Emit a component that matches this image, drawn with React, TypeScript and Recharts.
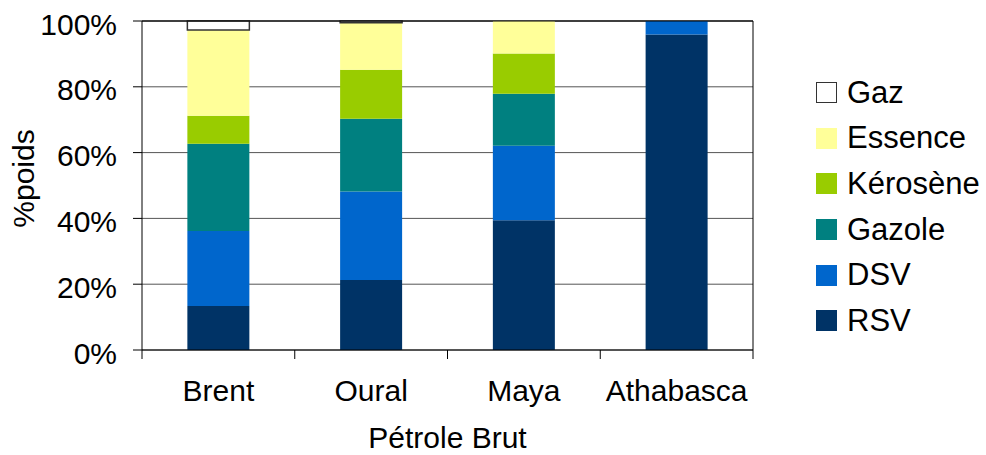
import { BarChart, Bar, XAxis, YAxis, CartesianGrid, Legend, ReferenceLine } from "recharts"

const CATEGORIES = ["Brent", "Oural", "Maya", "Athabasca"]
const RSV = [13.4, 21.3, 39.4, 95.9]
const DSV = [22.8, 26.9, 22.7, 4.1]
const GAZOLE = [26.5, 22.1, 15.8, 0]
const KEROSENE = [8.5, 14.9, 12.2, 0]
const ESSENCE = [26.1, 14.3, 9.9, 0]
const GAZ = [2.7, 0.5, 0, 0]
const Y_TICKS = [0, 20, 40, 60, 80, 100]

// bottom to top of the stack
const SERIES = [
  { key: "RSV", name: "RSV", values: RSV, fill: "#003366" },
  { key: "DSV", name: "DSV", values: DSV, fill: "#0066CC" },
  { key: "Gazole", name: "Gazole", values: GAZOLE, fill: "#008080" },
  { key: "Kerosene", name: "Kérosène", values: KEROSENE, fill: "#99CC00" },
  { key: "Essence", name: "Essence", values: ESSENCE, fill: "#FFFF99" },
  { key: "Gaz", name: "Gaz", values: GAZ, fill: "#FFFFFF", stroke: "#333" },
]

const data = CATEGORIES.map((name, i) => {
  const row: Record<string, string | number> = { name }
  SERIES.forEach((s) => {
    row[s.key] = s.values[i]
  })
  return row
})

const FONT = 30

function CategoryTick(props: any) {
  const { x, y, payload, index, visibleTicksCount, width } = props
  const count = visibleTicksCount || CATEGORIES.length
  const half = (width || 611) / count / 2
  const last = index === count - 1
  return (
    <g>
      <line x1={x - half} x2={x - half} y1={y} y2={y + 9} stroke="#000" />
      {last && <line x1={x + half} x2={x + half} y1={y} y2={y + 9} stroke="#000" />}
      <text x={x} y={y + 51} textAnchor="middle" fontSize={FONT} fill="#000">
        {payload.value}
      </text>
    </g>
  )
}

function YLabel(props: any) {
  const vb = props.viewBox || { x: 0, y: 21, width: 142, height: 329 }
  const cx = vb.x + 23
  const cy = vb.y + vb.height / 2 - 7
  return (
    <text
      x={cx}
      y={cy}
      transform={`rotate(-90 ${cx} ${cy})`}
      textAnchor="middle"
      dominantBaseline="central"
      fontSize={FONT}
      fill="#000"
    >
      %poids
    </text>
  )
}

function LegendBox() {
  return (
    <div style={{ fontSize: FONT + 1, color: "#000", whiteSpace: "nowrap" }}>
      {[...SERIES].reverse().map((s) => (
        <div key={s.key} style={{ display: "flex", alignItems: "center", height: 45.6 }}>
          <span
            style={{
              display: "inline-block",
              boxSizing: "border-box",
              width: 21,
              height: 21,
              background: s.fill,
              border: s.stroke ? `1.5px solid ${s.stroke}` : "none",
              marginRight: 10,
            }}
          />
          <span>{s.name}</span>
        </div>
      ))}
    </div>
  )
}

export default function App() {
  return (
    <div
      style={{
        position: "absolute",
        left: 0,
        top: 0,
        width: 986,
        height: 455,
        background: "#fff",
        fontFamily: "'Liberation Sans', Arial, sans-serif",
      }}
    >
      <BarChart
        width={986}
        height={455}
        data={data}
        margin={{ top: 21, right: 232, bottom: 0, left: 0 }}
        barCategoryGap="29.7%"
      >
        <CartesianGrid vertical={false} stroke="#555" />
        <XAxis
          dataKey="name"
          height={105}
          tickLine={false}
          tickSize={0}
          tickMargin={0}
          axisLine={{ stroke: "#000" }}
          tick={<CategoryTick />}
          interval={0}
          label={{ value: "Pétrole Brut", position: "insideBottom", offset: 7, fontSize: FONT, fill: "#000" }}
        />
        <YAxis
          width={142}
          domain={[0, 100]}
          ticks={Y_TICKS}
          tickFormatter={(v) => `${v}%`}
          tickSize={9}
          tickMargin={16}
          axisLine={{ stroke: "#000" }}
          tickLine={{ stroke: "#000" }}
          tick={{ fill: "#000", fontSize: FONT, dy: 3 }}
          label={{ content: <YLabel /> }}
        />
        <YAxis
          yAxisId="right"
          orientation="right"
          width={1}
          domain={[0, 100]}
          tick={false}
          tickLine={false}
          axisLine={{ stroke: "#000" }}
        />
        <ReferenceLine y={100} stroke="#000" />
        {SERIES.map((s) => (
          <Bar
            key={s.key}
            dataKey={s.key}
            name={s.name}
            stackId="a"
            fill={s.fill}
            stroke={s.stroke}
            strokeWidth={s.stroke ? 1.5 : 0}
            isAnimationActive={false}
          />
        ))}
        <Legend
          layout="vertical"
          align="center"
          verticalAlign="middle"
          wrapperStyle={{ left: 816, top: 70, width: 170 }}
          content={<LegendBox />}
        />
      </BarChart>
    </div>
  )
}
